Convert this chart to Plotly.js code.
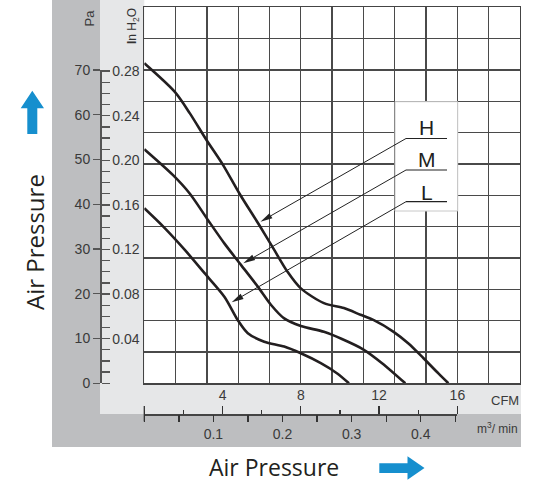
<!DOCTYPE html>
<html>
<head>
<meta charset="utf-8">
<script src="https://cdn.plot.ly/plotly-3.0.1.min.js"></script>
<style>html,body{margin:0;padding:0;background:#fff;}#chart{width:537px;height:482px;}</style>
</head>
<body>
<div id="chart"></div>
<script>
// ---- data (CFM vs Pa) ----
const seriesNames = ['H', 'M', 'L'];
const cfmH = [0, 1.56, 2.33, 3.17, 4.02, 4.86, 5.88, 6.64, 7.32, 8.0, 9.18, 10.2, 11.05, 11.73, 12.74, 13.5, 14.27, 15.03, 15.54];
const paH  = [71.5, 65.1, 60.3, 54.4, 48.8, 42.4, 35.3, 29.8, 24.9, 21.2, 17.9, 16.8, 15.3, 14.1, 11.5, 8.9, 5.6, 2.2, 0];
const cfmM = [0, 1.47, 2.32, 3.25, 4.1, 4.95, 5.8, 6.48, 7.15, 8.0, 9.18, 10.1, 11.18, 12.15, 13.34];
const paM  = [52.3, 46.5, 42.4, 36.5, 31.2, 26.4, 21.6, 17.5, 14.5, 12.8, 11.5, 9.9, 7.6, 4.5, 0];
const cfmL = [0, 0.97, 2.07, 3.08, 4.1, 4.78, 5.29, 6.13, 7.15, 8.0, 9.02, 9.86, 10.46];
const paL  = [39.1, 35.0, 29.8, 24.6, 19.3, 14.1, 11.2, 9.3, 8.2, 6.7, 4.5, 2.2, 0];

const paTicks = [0, 10, 20, 30, 40, 50, 60, 70];
const inH2OTicks = [0.04, 0.08, 0.12, 0.16, 0.20, 0.24, 0.28];
const cfmTicks = [4, 8, 12, 16];
const m3Ticks = [0.1, 0.2, 0.3, 0.4];

// ---- layout geometry (pixels) ----
const W = 537, H = 482;
const X0 = 144.3, X1 = 520, YT = 7.3, YB = 383.3;
const xMax = 19.2, yMax = 84;
const pxX = (X1 - X0) / xMax, pxY = (YB - YT) / yMax;
const px = v => v / W, py = v => 1 - v / H;
const PA_PER_INH2O = 249.09, CFM_PER_M3 = 35.3147;

const tickFont = {family: 'Liberation Sans, Arial, sans-serif', size: 14, color: '#3a3a3a'};
const curveLine = {color: '#231f20', width: 2.6, shape: 'spline', smoothing: 0.8};

const traces = [
  {x: cfmH, y: paH, name: seriesNames[0], mode: 'lines', line: curveLine, xaxis: 'x', yaxis: 'y'},
  {x: cfmM, y: paM, name: seriesNames[1], mode: 'lines', line: curveLine, xaxis: 'x', yaxis: 'y'},
  {x: cfmL, y: paL, name: seriesNames[2], mode: 'lines', line: curveLine, xaxis: 'x', yaxis: 'y'},
  {x: [null], y: [null], xaxis: 'x2', yaxis: 'y2', mode: 'lines', hoverinfo: 'skip'},
  {x: [null], y: [null], xaxis: 'x3', yaxis: 'y3', mode: 'lines', hoverinfo: 'skip'}
];

const yDomPa = [py(YB), py(YB - 70 * pxY)];
const xDomCfm = [px(X0), px(X0 + 16 * pxX)];

function poly(pts) {
  return 'M' + pts.map(p => px(p[0]) + ',' + py(p[1])).join(' L') + ' Z';
}
// leader line with a slim filled arrowhead (pixel geometry -> paper coords)
function leader(tail, tip) {
  const vx = tip[0] - tail[0], vy = tip[1] - tail[1];
  const len = Math.hypot(vx, vy), ux = vx / len, uy = vy / len;
  const L = 12, w = 3;
  const bx = tip[0] - ux * L, by = tip[1] - uy * L;
  return [
    {type: 'line', xref: 'paper', yref: 'paper', x0: px(tail[0]), y0: py(tail[1]), x1: px(bx), y1: py(by),
     line: {color: '#222', width: 1}, layer: 'above'},
    {type: 'path', xref: 'paper', yref: 'paper', layer: 'above', fillcolor: '#222', line: {width: 0},
     path: poly([tip, [bx - uy * w, by + ux * w], [bx + uy * w, by - ux * w]])}
  ];
}

const labelFont = {family: 'Liberation Sans, Arial, sans-serif', size: 13, color: '#3a3a3a'};
const letterFont = {family: 'Liberation Sans Narrow, Liberation Sans, Arial, sans-serif', size: 21, color: '#231f20'};
const titleFont = {family: 'Open Sans, sans-serif', size: 23, color: '#231f20'};

const layout = {
  width: W, height: H,
  margin: {l: 0, r: 0, t: 0, b: 0},
  paper_bgcolor: '#ffffff', plot_bgcolor: 'rgba(0,0,0,0)',
  showlegend: false,
  xaxis: {domain: [px(X0), px(X1)], range: [0, xMax], dtick: 1.6, tick0: 0, showticklabels: false,
          ticks: '', showgrid: true, gridcolor: '#4a4a4a', gridwidth: 1.3, zeroline: false,
          showline: true, linecolor: '#444', linewidth: 1.3, mirror: true, anchor: 'y', fixedrange: true},
  yaxis: {domain: [py(YB), py(YT)], range: [0, yMax], dtick: 7, tick0: 0, showticklabels: false,
          ticks: '', showgrid: true, gridcolor: '#4a4a4a', gridwidth: 1.3, zeroline: false,
          showline: true, linecolor: '#444', linewidth: 1.3, mirror: true, anchor: 'x', fixedrange: true},
  yaxis2: {domain: yDomPa, range: [0, 70], anchor: 'free', position: px(100), side: 'left',
           tickmode: 'array', tickvals: paTicks, ticktext: paTicks.map(String),
           ticks: 'outside', ticklen: 7, tickwidth: 1.3, tickcolor: '#555',
           showline: true, linecolor: '#555', linewidth: 1.5, showgrid: false, zeroline: false,
           tickfont: tickFont, fixedrange: true},
  yaxis3: {domain: yDomPa, range: [0, 70 / PA_PER_INH2O], anchor: 'free', position: px(100), side: 'right',
           tickmode: 'array', tickvals: inH2OTicks, ticktext: inH2OTicks.map(v => v.toFixed(2)),
           ticks: 'outside', ticklen: 8, tickwidth: 1.3, tickcolor: '#555',
           minor: {dtick: 0.01, tick0: 0, ticks: 'outside', ticklen: 8, tickwidth: 1.3, tickcolor: '#555'},
           showline: true, linecolor: '#555', linewidth: 1.5, showgrid: false, zeroline: false,
           tickfont: tickFont, fixedrange: true},
  xaxis2: {domain: xDomCfm, range: [0, 16], anchor: 'free', position: py(414), side: 'top',
           tickmode: 'array', tickvals: cfmTicks, ticktext: cfmTicks.map(String),
           ticks: 'outside', ticklen: 8, tickwidth: 1.3, tickcolor: '#333',
           minor: {dtick: 2, tick0: 0, ticks: 'outside', ticklen: 4, tickwidth: 1.3, tickcolor: '#333'},
           showline: true, linecolor: '#444', linewidth: 1.5, showgrid: false, zeroline: false,
           tickfont: tickFont, fixedrange: true},
  xaxis3: {domain: xDomCfm, range: [0, 16 / CFM_PER_M3], anchor: 'free', position: py(414), side: 'bottom',
           tickmode: 'array', tickvals: m3Ticks, ticktext: m3Ticks.map(String),
           ticks: 'outside', ticklen: 7, tickwidth: 1.3, tickcolor: '#333',
           minor: {dtick: 0.05, tick0: 0, ticks: 'outside', ticklen: 7, tickwidth: 1.3, tickcolor: '#333'},
           showline: false, showgrid: false, zeroline: false,
           tickfont: tickFont, fixedrange: true},
  shapes: [
    // dark gray L band
    {type: 'rect', xref: 'paper', yref: 'paper', x0: px(52), x1: px(100), y0: py(447), y1: py(0),
     fillcolor: '#bdbec0', line: {width: 0}, layer: 'below'},
    {type: 'rect', xref: 'paper', yref: 'paper', x0: px(52), x1: px(521), y0: py(447), y1: py(414),
     fillcolor: '#bdbec0', line: {width: 0}, layer: 'below'},
    // light gray band
    {type: 'rect', xref: 'paper', yref: 'paper', x0: px(100), x1: px(X0), y0: py(414), y1: py(0),
     fillcolor: '#e6e7e8', line: {width: 0}, layer: 'below'},
    {type: 'rect', xref: 'paper', yref: 'paper', x0: px(100), x1: px(521), y0: py(414), y1: py(YB),
     fillcolor: '#e6e7e8', line: {width: 0}, layer: 'below'},
    // origin tick crossing the flow scale line
    {type: 'line', xref: 'paper', yref: 'paper', x0: px(X0), x1: px(X0), y0: py(406), y1: py(421.5),
     line: {color: '#333', width: 1.3}},
    // legend box
    {type: 'rect', xref: 'paper', yref: 'paper', x0: px(395), x1: px(457.7), y0: py(211), y1: py(101.7),
     fillcolor: '#ffffff', line: {color: '#c8c8c8', width: 1}, layer: 'above'},
    // underlines
    {type: 'line', xref: 'paper', yref: 'paper', x0: px(406), x1: px(447), y0: py(138.5), y1: py(138.5), line: {color: '#222', width: 1.2}},
    {type: 'line', xref: 'paper', yref: 'paper', x0: px(406), x1: px(447), y0: py(170), y1: py(170), line: {color: '#222', width: 1.2}},
    {type: 'line', xref: 'paper', yref: 'paper', x0: px(406), x1: px(447), y0: py(201.7), y1: py(201.7), line: {color: '#222', width: 1.2}},
    // leader arrows
    ...leader([406, 138.5], [260.5, 221.7]),
    ...leader([406, 170], [243.3, 263.3]),
    ...leader([406, 201.7], [231.7, 302.3]),
    // blue arrows
    {type: 'path', xref: 'paper', yref: 'paper', layer: 'above', fillcolor: '#168fce', line: {width: 0},
     path: poly([[32.3, 90.7], [44, 108.3], [37.3, 108.3], [37.3, 134], [27.3, 134], [27.3, 108.3], [20.7, 108.3]])},
    {type: 'path', xref: 'paper', yref: 'paper', layer: 'above', fillcolor: '#168fce', line: {width: 0},
     path: poly([[424.5, 468], [407.5, 456.3], [407.5, 463.3], [379.3, 463.3], [379.3, 473], [407.5, 473], [407.5, 479.7]])}
  ],
  annotations: [
    {xref: 'paper', yref: 'paper', x: px(89.5), y: py(18), text: 'Pa', showarrow: false, textangle: -90,
     font: labelFont, xanchor: 'center', yanchor: 'middle'},
    {xref: 'paper', yref: 'paper', x: px(132.5), y: py(26.5), text: '<b>I</b>n H<sub>2</sub>O', showarrow: false, textangle: -90,
     font: {family: 'Liberation Sans, Arial, sans-serif', size: 12, color: '#333'}, xanchor: 'center', yanchor: 'middle'},
    {xref: 'paper', yref: 'paper', x: px(505), y: py(400), text: 'CFM', showarrow: false,
     font: labelFont, xanchor: 'center', yanchor: 'middle'},
    {xref: 'paper', yref: 'paper', x: px(497), y: py(428), text: 'm<sup>3</sup>/ min', showarrow: false,
     font: {family: 'Liberation Sans, Arial, sans-serif', size: 12, color: '#3a3a3a'}, xanchor: 'center', yanchor: 'middle'},
    {xref: 'paper', yref: 'paper', x: px(34), y: py(242), text: 'Air Pressure', showarrow: false, textangle: -90,
     font: {family: 'Open Sans, sans-serif', size: 24, color: '#231f20'}, xanchor: 'center', yanchor: 'middle'},
    {xref: 'paper', yref: 'paper', x: px(273.5), y: py(466.5), text: 'Air Pressure', showarrow: false,
     font: titleFont, xanchor: 'center', yanchor: 'middle'},
    // legend letters
    {xref: 'paper', yref: 'paper', x: px(426.7), y: py(127.5), text: seriesNames[0], showarrow: false,
     font: letterFont, xanchor: 'center', yanchor: 'middle'},
    {xref: 'paper', yref: 'paper', x: px(426.7), y: py(159.2), text: seriesNames[1], showarrow: false,
     font: letterFont, xanchor: 'center', yanchor: 'middle'},
    {xref: 'paper', yref: 'paper', x: px(426.7), y: py(192.5), text: seriesNames[2], showarrow: false,
     font: letterFont, xanchor: 'center', yanchor: 'middle'}
  ]
};

Plotly.newPlot('chart', traces, layout, {displayModeBar: false, staticPlot: true});
</script>
</body>
</html>
